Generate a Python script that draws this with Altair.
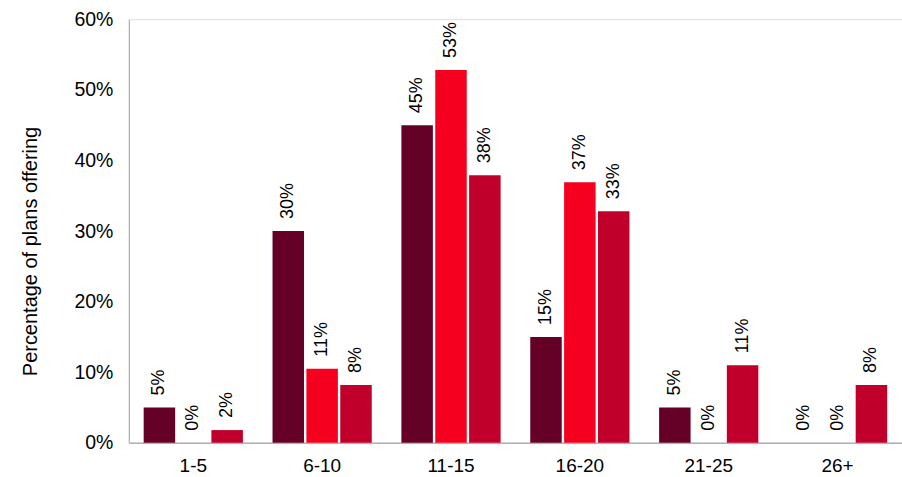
import altair as alt
import pandas as pd

categories = ["1-5", "6-10", "11-15", "16-20", "21-25", "26+"]
series = ["Series A", "Series B", "Series C"]
values_a = [0.05, 0.30, 0.45, 0.15, 0.05, 0.00]
values_b = [0.00, 0.105, 0.528, 0.369, 0.00, 0.00]
values_c = [0.018, 0.082, 0.379, 0.328, 0.11, 0.082]
labels_a = ["5%", "30%", "45%", "15%", "5%", "0%"]
labels_b = ["0%", "11%", "53%", "37%", "0%", "0%"]
labels_c = ["2%", "8%", "38%", "33%", "11%", "8%"]
colors = ["#650026", "#F5001E", "#C0002A"]

rows = []
for s, vals, labs in zip(series, [values_a, values_b, values_c], [labels_a, labels_b, labels_c]):
    for c, v, l in zip(categories, vals, labs):
        rows.append({"category": c, "series": s, "value": v, "label": l})
df = pd.DataFrame(rows)

font = "Liberation Sans"

x = alt.X("category:N", sort=categories, title=None,
          scale=alt.Scale(paddingInner=0.23, paddingOuter=0.115),
          axis=alt.Axis(labelAngle=0, labelFontSize=19, labelFont=font, labelColor="#000",
                        ticks=False, domainColor="#b0b0b0", domainWidth=1.5, labelPadding=14))
xoff = alt.XOffset("series:N", sort=series, scale=alt.Scale(paddingInner=0.07, paddingOuter=0))
y = alt.Y("value:Q", scale=alt.Scale(domain=[0, 0.6], nice=False),
          axis=alt.Axis(format=".0%", values=[0, 0.1, 0.2, 0.3, 0.4, 0.5, 0.6], ticks=False,
                        grid=False, labelFontSize=19.5, labelFont=font, labelColor="#000",
                        labelPadding=16, domainColor="#b0b0b0", domainWidth=1.2,
                        title="Percentage of plans offering", titleFontSize=20,
                        titleFont=font, titleFontWeight="normal", titleColor="#000",
                        titlePadding=33, titleY=232))
color = alt.Color("series:N", sort=series, scale=alt.Scale(domain=series, range=colors), legend=None)

bars = alt.Chart(df).mark_bar().encode(x=x, xOffset=xoff, y=y, color=color)
text = alt.Chart(df).mark_text(angle=270, align="left", baseline="middle", dx=12,
                               fontSize=18, font=font, color="#000").encode(
    x=x, xOffset=xoff, y=y, text="label:N")

chart = (bars + text).properties(
    width=774, height=424,
    autosize=alt.AutoSizeParams(type="none"),
    padding={"left": 129, "top": 19, "right": 0, "bottom": 34},
).configure_view(stroke=None).configure(background="white")

chart.save("out.html", embed_options={"renderer": "svg", "actions": False})
